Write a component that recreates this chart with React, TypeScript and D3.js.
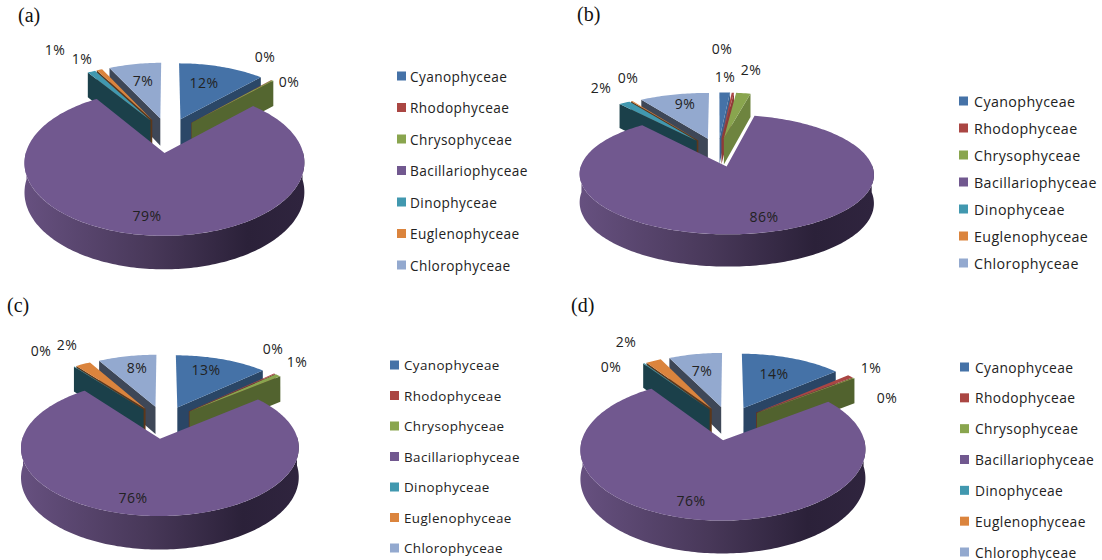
import React from "react";
import * as d3 from "d3";

// Phytoplankton classes and their share (%) at each of the four sites.
const categories = ["Cyanophyceae", "Rhodophyceae", "Chrysophyceae", "Bacillariophyceae", "Dinophyceae", "Euglenophyceae", "Chlorophyceae"];
const valuesA = [12.0, 0.05, 0.25, 78.5, 1.1, 0.8, 7.3];
const valuesB = [1.4, 0.3, 1.9, 85.5, 1.5, 0.2, 9.2];
const valuesC = [13.0, 0.2, 0.8, 75.6, 0.1, 2.1, 8.2];
const valuesD = [13.8, 0.8, 0.2, 75.6, 0.2, 2.1, 7.3];
const sliceColors = ["#4572A7", "#AA4643", "#89A54E", "#71588F", "#4198AF", "#DB843D", "#93A9CF"];

// Panel geometry: pie centre, radius, foreshortened radius, extrusion, legend placement.
const panels = [
  { title: "(a)", titleX: 18, titleY: 22, values: valuesA, cx: 168, cy: 135, R: 134, T: 67, depth: 28,
    legendSwatch: 397, legendText: 410, legendTop: 76, legendBottom: 265, legendSize: 13.65,
    labels: [[204, 82], [265, 56], [289, 81], [147, 215], [55, 49], [82, 58], [143, 80]] },
  { title: "(b)", titleX: 577, titleY: 21, values: valuesB, cx: 718, cy: 152, R: 141, T: 55, depth: 27,
    legendSwatch: 959, legendText: 974, legendTop: 101, legendBottom: 263, legendSize: 14.25,
    labels: [[725, 76], [722, 48], [751, 69], [764, 216], [601, 87], [628, 77], [685, 103]] },
  { title: "(c)", titleX: 7, titleY: 312, values: valuesC, cx: 164, cy: 422, R: 133, T: 62.5, depth: 28,
    legendSwatch: 390, legendText: 404, legendTop: 365, legendBottom: 548, legendSize: 13.4,
    labels: [[206, 369], [273, 348], [297, 361], [133, 497], [41, 350], [67, 344], [137, 367]] },
  { title: "(d)", titleX: 571, titleY: 312, values: valuesD, cx: 729, cy: 423, R: 136.5, T: 65, depth: 27.5,
    legendSwatch: 960, legendText: 975, legendTop: 367, legendBottom: 552, legendSize: 13.8,
    labels: [[774, 373], [871, 367], [887, 397], [691, 500], [611, 366], [626, 341], [702, 370]] },
];

const PERSPECTIVE = 0.13;
const EXPLODE = 0.26;
const TAU = Math.PI * 2;
const percent = d3.format(".0%");
const line = d3.line<[number, number]>();

// Cut faces catch less light the further they turn away from the viewer's right.
const rightWallShade = d3.scaleLinear().domain([0, 43, 70]).range([0.88, 0.62, 0.55]).clamp(true);
const LEFT_WALL_SHADE = 0.42;

function shade(color: string, k: number) {
  const c = d3.rgb(color);
  return d3.rgb(c.r * k, c.g * k, c.b * k).formatHex();
}

function Pie3D({ panel, index }: { panel: (typeof panels)[number]; index: number }) {
  const { cx, cy, R, T, depth, values } = panel;
  const total = d3.sum(values);
  const arcs = d3.pie<number>().sort(null).startAngle(0).endAngle(TAU)(values);
  const gradientId = `rim-${index}`;

  const slices = arcs
    .map((arc, i) => {
      const mid = (arc.startAngle + arc.endAngle) / 2;
      const e = EXPLODE * R;
      const ox = e * Math.sin(mid);
      const oy = -e * Math.cos(mid);
      // Perspective projection of a point on the pie's plane, optionally on its underside.
      const project = (X: number, Y: number, under: boolean): [number, number] => {
        const s = 1 / (1 - (PERSPECTIVE * Y) / R);
        return [cx + X * s, cy + T * (Y / R) * s + (under ? depth * s : 0)];
      };
      const rim = (th: number, under = false) => project(ox + R * Math.sin(th), oy - R * Math.cos(th), under);
      const apex = (under = false) => project(ox, oy, under);
      const sweep = (a0: number, a1: number) => {
        const n = Math.max(2, Math.ceil((a1 - a0) / 0.02));
        return d3.range(n + 1).map((k) => a0 + ((a1 - a0) * k) / n);
      };
      const top = line([apex(), ...sweep(arc.startAngle, arc.endAngle).map((t) => rim(t))])! + "Z";
      const walls: { d: string; fill: string }[] = [];
      const quad = (th: number) => line([apex(), rim(th), rim(th, true), apex(true)])! + "Z";
      if (Math.sin(arc.endAngle) > 0.001) {
        walls.push({ d: quad(arc.endAngle), fill: shade(sliceColors[i], rightWallShade((arc.endAngle * 180) / Math.PI)) });
      }
      if (Math.sin(arc.startAngle) < -0.001) {
        walls.push({ d: quad(arc.startAngle), fill: shade(sliceColors[i], LEFT_WALL_SHADE) });
      }
      const a0 = Math.max(arc.startAngle, Math.PI * 0.49);
      const a1 = Math.min(arc.endAngle, Math.PI * 1.51);
      let outer: string | null = null;
      if (a1 > a0) {
        const ts = sweep(a0, a1);
        outer = line([...ts.map((t) => rim(t)), ...ts.slice().reverse().map((t) => rim(t, true))])! + "Z";
      }
      return { i, mid, top, walls, outer, left: rim(Math.PI * 1.5)[0], right: rim(Math.PI * 0.5)[0] };
    })
    // Paint the far slices first so the nearer ones overlap them.
    .sort((a, b) => Math.cos(b.mid) - Math.cos(a.mid));

  const big = slices[slices.length - 1];
  const legendY = d3.scalePoint<string>().domain(categories).range([panel.legendTop, panel.legendBottom]);

  return (
    <g>
      <defs>
        <linearGradient id={gradientId} gradientUnits="userSpaceOnUse" x1={big.left} x2={big.right} y1={0} y2={0}>
          <stop offset="0" stopColor="#66507F" />
          <stop offset="0.45" stopColor="#483859" />
          <stop offset="0.8" stopColor="#2B2139" />
          <stop offset="1" stopColor="#2F243E" />
        </linearGradient>
      </defs>
      <text x={panel.titleX} y={panel.titleY} fontFamily="'Liberation Serif', serif" fontSize={20} fill="#111">
        {panel.title}
      </text>
      {slices.map((s) => (
        <g key={s.i}>
          {s.outer && <path d={s.outer} fill={s === big ? `url(#${gradientId})` : shade(sliceColors[s.i], 0.5)} />}
          {s.walls.map((w, k) => (
            <path key={k} d={w.d} fill={w.fill} />
          ))}
          <path d={s.top} fill={sliceColors[s.i]} />
        </g>
      ))}
      {panel.labels.map(([x, y], i) => (
        <text key={i} x={x} y={y} textAnchor="middle" dominantBaseline="central" fontFamily="'Open Sans', sans-serif" fontSize={14} letterSpacing={0.4} fill="#222">
          {percent(values[i] / total)}
        </text>
      ))}
      {categories.map((c, i) => (
        <g key={c}>
          <rect x={panel.legendSwatch} y={legendY(c)! - 4.5} width={9} height={9} fill={sliceColors[i]} />
          <text x={panel.legendText} y={legendY(c)!} dominantBaseline="central" fontFamily="'Open Sans', sans-serif" fontSize={panel.legendSize} letterSpacing={0.4} fill="#222">
            {c}
          </text>
        </g>
      ))}
    </g>
  );
}

export default function App() {
  return (
    <svg width={1102} height={560} viewBox="0 0 1102 560" style={{ position: "absolute", left: 0, top: 0, background: "#fff" }}>
      {panels.map((p, i) => (
        <Pie3D key={p.title} panel={p} index={i} />
      ))}
    </svg>
  );
}
